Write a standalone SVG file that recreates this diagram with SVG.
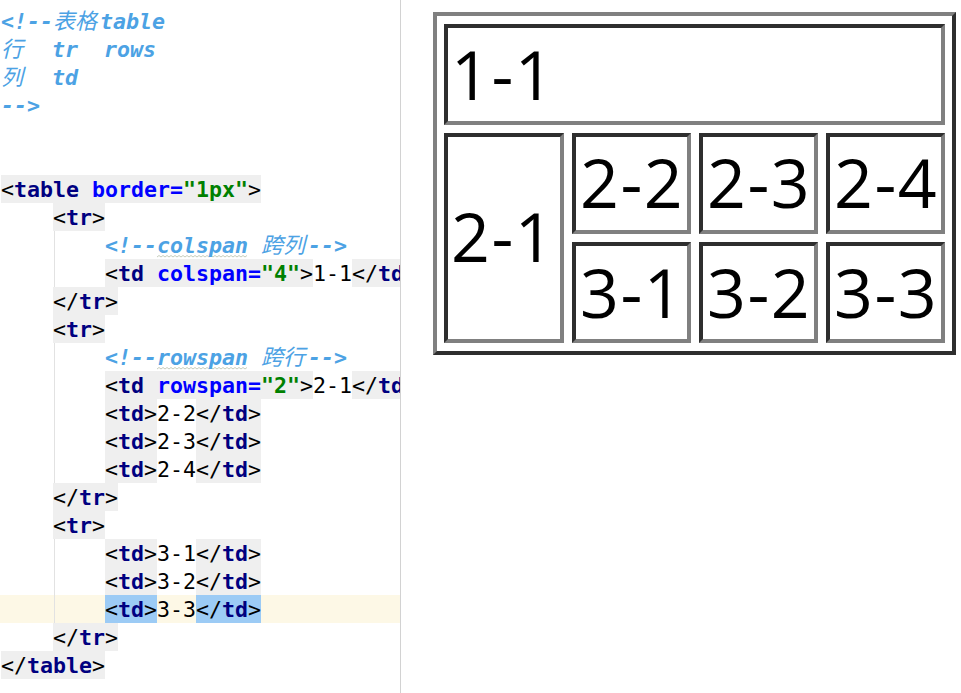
<svg xmlns="http://www.w3.org/2000/svg" width="961" height="693" viewBox="0 0 961 693">
<defs>
<style>
.code{font-family:"DejaVu Sans Mono","Noto Sans CJK SC",monospace;font-size:21.6px;}
.cm{fill:#4ca2e4;font-style:italic;font-weight:bold;}
.cjk{font-family:"Noto Sans CJK SC","Noto Sans CJK TC",sans-serif;font-weight:normal;font-size:22px;}
.br{fill:#000000;font-weight:normal;}
.tg{fill:#000080;font-weight:bold;}
.at{fill:#0000ff;font-weight:bold;}
.vl{fill:#008000;font-weight:bold;}
.tx{fill:#000000;font-weight:normal;}
.bg{fill:#efefef;}
.sel{fill:#9ccbf5;}
.dk{fill:#2e2e2e;}
.lt{fill:#808080;}
.in{fill:#ffffff;}
.ct{font-family:"Open Sans","Noto Sans",sans-serif;font-size:68px;fill:#000000;letter-spacing:1.5px;}
.wave{fill:none;stroke:#c6cdbd;stroke-width:1;}
</style>
<clipPath id="edclip"><rect x="0" y="0" width="400" height="693"/></clipPath>
</defs>
<rect x="0" y="0" width="961" height="693" fill="#ffffff"/>

<g id="editor" clip-path="url(#edclip)">
  <rect x="0" y="595" width="400" height="28" fill="#fdf8e6"/>
  <line x1="54.5" y1="203" x2="54.5" y2="651" stroke="#e2e2e2" stroke-width="1"/>
  <rect class="bg" x="1" y="175" width="260" height="28"/>
  <rect class="bg" x="53" y="203" width="52" height="28"/>
  <rect class="bg" x="105" y="259" width="208" height="28"/>
  <rect class="bg" x="352" y="259" width="60" height="28"/>
  <rect class="bg" x="53" y="287" width="65" height="28"/>
  <rect class="bg" x="53" y="315" width="52" height="28"/>
  <rect class="bg" x="105" y="371" width="208" height="28"/>
  <rect class="bg" x="352" y="371" width="60" height="28"/>
  <rect class="bg" x="105" y="399" width="52" height="84"/>
  <rect class="bg" x="196" y="399" width="65" height="84"/>
  <rect class="bg" x="53" y="483" width="65" height="28"/>
  <rect class="bg" x="53" y="511" width="52" height="28"/>
  <rect class="bg" x="105" y="539" width="52" height="56"/>
  <rect class="bg" x="196" y="539" width="65" height="56"/>
  <rect class="sel" x="105" y="595" width="52" height="28"/>
  <rect class="sel" x="196" y="595" width="65" height="28"/>
  <rect class="bg" x="53" y="623" width="65" height="28"/>
  <rect class="bg" x="1" y="651" width="104" height="28"/>
  <path class="wave" d="M157,257 l2,-1.5 l2,1.5 l2,-1.5 l2,1.5 l2,-1.5 l2,1.5 l2,-1.5 l2,1.5 l2,-1.5 l2,1.5 l2,-1.5 l2,1.5 l2,-1.5 l2,1.5 l2,-1.5 l2,1.5 l2,-1.5 l2,1.5 l2,-1.5 l2,1.5 l2,-1.5 l2,1.5 l2,-1.5 l2,1.5 l2,-1.5 l2,1.5 l2,-1.5 l2,1.5 l2,-1.5 l2,1.5 l2,-1.5 l2,1.5 l2,-1.5 l2,1.5 l2,-1.5 l2,1.5 l2,-1.5 l2,1.5 l2,-1.5 l2,1.5 l2,-1.5 l2,1.5 l2,-1.5 l2,1.5 l2,-1.5"/>
  <path class="wave" d="M157,369 l2,-1.5 l2,1.5 l2,-1.5 l2,1.5 l2,-1.5 l2,1.5 l2,-1.5 l2,1.5 l2,-1.5 l2,1.5 l2,-1.5 l2,1.5 l2,-1.5 l2,1.5 l2,-1.5 l2,1.5 l2,-1.5 l2,1.5 l2,-1.5 l2,1.5 l2,-1.5 l2,1.5 l2,-1.5 l2,1.5 l2,-1.5 l2,1.5 l2,-1.5 l2,1.5 l2,-1.5 l2,1.5 l2,-1.5 l2,1.5 l2,-1.5 l2,1.5 l2,-1.5 l2,1.5 l2,-1.5 l2,1.5 l2,-1.5 l2,1.5 l2,-1.5 l2,1.5 l2,-1.5 l2,1.5 l2,-1.5"/>

  <g class="code">
    <text class="cm" y="29"><tspan x="1">&lt;!--</tspan><tspan class="cjk" x="53">表格</tspan><tspan x="100">table</tspan></text>
    <text class="cm" y="57"><tspan class="cjk" x="1">行</tspan><tspan x="52">tr</tspan><tspan x="104">rows</tspan></text>
    <text class="cm" y="85"><tspan class="cjk" x="1">列</tspan><tspan x="52">td</tspan></text>
    <text class="cm" y="113" x="1">--&gt;</text>

    <text y="197"><tspan class="br" x="1">&lt;</tspan><tspan class="tg" x="14">table</tspan><tspan class="at" x="92">border=</tspan><tspan class="vl" x="183">"1px"</tspan><tspan class="br" x="248">&gt;</tspan></text>
    <text y="225"><tspan class="br" x="53">&lt;</tspan><tspan class="tg" x="66">tr</tspan><tspan class="br" x="92">&gt;</tspan></text>
    <text class="cm" y="253"><tspan x="105">&lt;!--colspan</tspan><tspan class="cjk" x="261">跨列</tspan><tspan x="308">--&gt;</tspan></text>
    <text y="281"><tspan class="br" x="105">&lt;</tspan><tspan class="tg" x="118">td</tspan><tspan class="at" x="157">colspan=</tspan><tspan class="vl" x="261">"4"</tspan><tspan class="br" x="300">&gt;</tspan><tspan class="tx" x="313">1-1</tspan><tspan class="br" x="352">&lt;/</tspan><tspan class="tg" x="378">td</tspan></text>
    <text y="309"><tspan class="br" x="53">&lt;/</tspan><tspan class="tg" x="79">tr</tspan><tspan class="br" x="105">&gt;</tspan></text>
    <text y="337"><tspan class="br" x="53">&lt;</tspan><tspan class="tg" x="66">tr</tspan><tspan class="br" x="92">&gt;</tspan></text>
    <text class="cm" y="365"><tspan x="105">&lt;!--rowspan</tspan><tspan class="cjk" x="261">跨行</tspan><tspan x="308">--&gt;</tspan></text>
    <text y="393"><tspan class="br" x="105">&lt;</tspan><tspan class="tg" x="118">td</tspan><tspan class="at" x="157">rowspan=</tspan><tspan class="vl" x="261">"2"</tspan><tspan class="br" x="300">&gt;</tspan><tspan class="tx" x="313">2-1</tspan><tspan class="br" x="352">&lt;/</tspan><tspan class="tg" x="378">td</tspan></text>
    <text y="421"><tspan class="br" x="105">&lt;</tspan><tspan class="tg" x="118">td</tspan><tspan class="br" x="144">&gt;</tspan><tspan class="tx" x="157">2-2</tspan><tspan class="br" x="196">&lt;/</tspan><tspan class="tg" x="222">td</tspan><tspan class="br" x="248">&gt;</tspan></text>
    <text y="449"><tspan class="br" x="105">&lt;</tspan><tspan class="tg" x="118">td</tspan><tspan class="br" x="144">&gt;</tspan><tspan class="tx" x="157">2-3</tspan><tspan class="br" x="196">&lt;/</tspan><tspan class="tg" x="222">td</tspan><tspan class="br" x="248">&gt;</tspan></text>
    <text y="477"><tspan class="br" x="105">&lt;</tspan><tspan class="tg" x="118">td</tspan><tspan class="br" x="144">&gt;</tspan><tspan class="tx" x="157">2-4</tspan><tspan class="br" x="196">&lt;/</tspan><tspan class="tg" x="222">td</tspan><tspan class="br" x="248">&gt;</tspan></text>
    <text y="505"><tspan class="br" x="53">&lt;/</tspan><tspan class="tg" x="79">tr</tspan><tspan class="br" x="105">&gt;</tspan></text>
    <text y="533"><tspan class="br" x="53">&lt;</tspan><tspan class="tg" x="66">tr</tspan><tspan class="br" x="92">&gt;</tspan></text>
    <text y="561"><tspan class="br" x="105">&lt;</tspan><tspan class="tg" x="118">td</tspan><tspan class="br" x="144">&gt;</tspan><tspan class="tx" x="157">3-1</tspan><tspan class="br" x="196">&lt;/</tspan><tspan class="tg" x="222">td</tspan><tspan class="br" x="248">&gt;</tspan></text>
    <text y="589"><tspan class="br" x="105">&lt;</tspan><tspan class="tg" x="118">td</tspan><tspan class="br" x="144">&gt;</tspan><tspan class="tx" x="157">3-2</tspan><tspan class="br" x="196">&lt;/</tspan><tspan class="tg" x="222">td</tspan><tspan class="br" x="248">&gt;</tspan></text>
    <text y="617"><tspan class="br" x="105">&lt;</tspan><tspan class="tg" x="118">td</tspan><tspan class="br" x="144">&gt;</tspan><tspan class="tx" x="157">3-3</tspan><tspan class="br" x="196">&lt;/</tspan><tspan class="tg" x="222">td</tspan><tspan class="br" x="248">&gt;</tspan></text>
    <text y="645"><tspan class="br" x="53">&lt;/</tspan><tspan class="tg" x="79">tr</tspan><tspan class="br" x="105">&gt;</tspan></text>
    <text y="673"><tspan class="br" x="1">&lt;/</tspan><tspan class="tg" x="27">table</tspan><tspan class="br" x="92">&gt;</tspan></text>
  </g>
</g>
<line x1="400.5" y1="0" x2="400.5" y2="693" stroke="#d2d2d2" stroke-width="1"/>

<g id="table">
  <rect class="dk" x="433" y="12" width="523" height="343"/>
  <polygon class="lt" points="433,12 956,12 952,16 437,16 437,351 433,355"/>
  <rect class="in" x="437" y="16" width="515" height="335"/>
</g>

<g id="cell-1-1">
  <rect class="lt" x="444" y="24" width="501" height="101"/>
  <polygon class="dk" points="444,24 945,24 941,28 448,28 448,121 444,125"/>
  <rect class="in" x="448" y="28" width="493" height="93"/>
  <text class="ct" x="451" y="100">1-1</text>
</g>
<g id="cell-2-1">
  <rect class="lt" x="444" y="133" width="120" height="210"/>
  <polygon class="dk" points="444,133 564,133 560,137 448,137 448,339 444,343"/>
  <rect class="in" x="448" y="137" width="112" height="202"/>
  <text class="ct" x="451" y="262">2-1</text>
</g>
<g id="cell-2-2">
  <rect class="lt" x="572" y="133" width="119" height="101"/>
  <polygon class="dk" points="572,133 691,133 687,137 576,137 576,230 572,234"/>
  <rect class="in" x="576" y="137" width="111" height="93"/>
  <text class="ct" x="580" y="208">2-2</text>
</g>
<g id="cell-2-3">
  <rect class="lt" x="699" y="133" width="119" height="101"/>
  <polygon class="dk" points="699,133 818,133 814,137 703,137 703,230 699,234"/>
  <rect class="in" x="703" y="137" width="111" height="93"/>
  <text class="ct" x="707" y="208">2-3</text>
</g>
<g id="cell-2-4">
  <rect class="lt" x="826" y="133" width="119" height="101"/>
  <polygon class="dk" points="826,133 945,133 941,137 830,137 830,230 826,234"/>
  <rect class="in" x="830" y="137" width="111" height="93"/>
  <text class="ct" x="834" y="208">2-4</text>
</g>
<g id="cell-3-1">
  <rect class="lt" x="572" y="242" width="119" height="101"/>
  <polygon class="dk" points="572,242 691,242 687,246 576,246 576,339 572,343"/>
  <rect class="in" x="576" y="246" width="111" height="93"/>
  <text class="ct" x="580" y="318">3-1</text>
</g>
<g id="cell-3-2">
  <rect class="lt" x="699" y="242" width="119" height="101"/>
  <polygon class="dk" points="699,242 818,242 814,246 703,246 703,339 699,343"/>
  <rect class="in" x="703" y="246" width="111" height="93"/>
  <text class="ct" x="707" y="318">3-2</text>
</g>
<g id="cell-3-3">
  <rect class="lt" x="826" y="242" width="119" height="101"/>
  <polygon class="dk" points="826,242 945,242 941,246 830,246 830,339 826,343"/>
  <rect class="in" x="830" y="246" width="111" height="93"/>
  <text class="ct" x="834" y="318">3-3</text>
</g>
</svg>
